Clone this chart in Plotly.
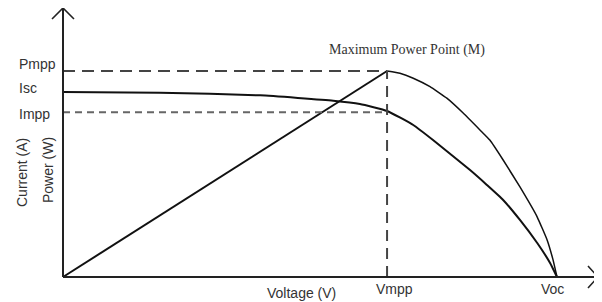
import plotly.graph_objects as go

# ---- data (relative units: Voc = 1, Pmpp = 1) ----
VOC = 1.0
VMPP = 0.656
PMPP = 1.0
ISC = 0.898
IMPP = 0.80

# Current curve (I-V)
i_v = [0.0, 0.196, 0.399, 0.547, 0.601, VMPP, 0.709, 0.749, 0.824, 0.858, 0.891, 0.925,
       0.960, 0.986, VOC]
i_i = [ISC, 0.895, 0.882, 0.856, 0.840, 0.806, 0.738, 0.665, 0.519, 0.447, 0.374, 0.277,
       0.165, 0.068, 0.0]

# Power curve (P-V): rising part and falling part
p_rise_v = [0.0, VMPP]
p_rise_p = [0.0, PMPP]
p_fall_v = [VMPP, 0.682, 0.709, 0.743, 0.777, 0.810, 0.844, 0.864, 0.891, 0.925, 0.960,
            0.980, 0.992, VOC]
p_fall_p = [PMPP, 0.989, 0.965, 0.924, 0.868, 0.796, 0.714, 0.665, 0.568, 0.437, 0.291,
            0.180, 0.083, 0.0]

# ---- geometry (page pixels; the page body has an 8px margin) ----
OFF = 8
W, H = 602 - OFF, 302 - OFF
X0PX, Y0PX = 63, 277          # origin, page pixels
SX = 494.0                    # px per voltage unit
SY = 206.0                    # px per power unit


def dx(px):
    return (px - X0PX) / SX


def dy(py):
    return (Y0PX - py) / SY


x_range = [dx(OFF), dx(OFF + W)]
y_range = [dy(OFF + H), dy(OFF)]
x_end = dx(598)
y_end = dy(8)

fig = go.Figure()

line_col = "#111111"
fig.add_trace(go.Scatter(x=i_v, y=i_i, mode="lines",
                         line=dict(color=line_col, width=2, shape="spline", smoothing=0.4),
                         hoverinfo="skip"))
fig.add_trace(go.Scatter(x=p_rise_v, y=p_rise_p, mode="lines",
                         line=dict(color=line_col, width=2), hoverinfo="skip"))
fig.add_trace(go.Scatter(x=p_fall_v, y=p_fall_p, mode="lines",
                         line=dict(color=line_col, width=1.5, shape="spline", smoothing=0.3),
                         hoverinfo="skip"))

shapes = []
dash_col = "#444444"
shapes.append(dict(type="line", xref="x", yref="y", x0=0, x1=VMPP, y0=PMPP, y1=PMPP,
                   line=dict(color=dash_col, width=2, dash="12px,7px")))
shapes.append(dict(type="line", xref="x", yref="y", x0=0, x1=VMPP, y0=IMPP, y1=IMPP,
                   line=dict(color="#666666", width=2, dash="7px,5px")))
shapes.append(dict(type="line", xref="x", yref="y", x0=VMPP, x1=VMPP, y0=0, y1=PMPP,
                   line=dict(color=dash_col, width=2, dash="11px,7px")))
ax_col = "#222222"
shapes.append(dict(type="line", xref="x", yref="y", x0=0, x1=x_end, y0=0, y1=0,
                   line=dict(color=ax_col, width=2)))
shapes.append(dict(type="line", xref="x", yref="y", x0=0, x1=0, y0=0, y1=y_end,
                   line=dict(color=ax_col, width=2)))
shapes.append(dict(type="path", xref="x", yref="y",
                   path=f"M {x_end - 10/SX} {11/SY} L {x_end} 0 L {x_end - 10/SX} {-11/SY}",
                   line=dict(color=ax_col, width=1.6)))
shapes.append(dict(type="path", xref="x", yref="y",
                   path=f"M {-11/SX} {y_end - 11/SY} L 0 {y_end} L {11/SX} {y_end - 11/SY}",
                   line=dict(color=ax_col, width=1.6)))

sans = dict(family="Liberation Sans, Arial, sans-serif", size=14, color="#333333")
serif = dict(family="Liberation Serif, Times New Roman, serif", size=14, color="#333333")

lab_x = dx(17)
annotations = [
    dict(x=lab_x, y=PMPP, text="Pmpp", xanchor="left", yanchor="middle", yshift=7),
    dict(x=lab_x, y=ISC, text="Isc", xanchor="left", yanchor="middle", yshift=4),
    dict(x=lab_x, y=IMPP, text="Impp", xanchor="left", yanchor="middle", yshift=-2),
    dict(x=dx(22), y=dy(173), text="Current (A)", textangle=-90,
         xanchor="center", yanchor="middle"),
    dict(x=dx(48), y=dy(170), text="Power (W)", textangle=-90,
         xanchor="center", yanchor="middle"),
    dict(x=dx(301), y=0, text="Voltage (V)", xanchor="center", yanchor="middle",
         yshift=-16),
    dict(x=VMPP, y=0, text="Vmpp", xanchor="center", yanchor="middle", xshift=7, yshift=-12),
    dict(x=VOC, y=0, text="Voc", xanchor="center", yanchor="middle", xshift=-5, yshift=-12),
]
for a in annotations:
    a.update(xref="x", yref="y", showarrow=False, font=sans)
annotations.append(dict(x=VMPP, y=PMPP, xref="x", yref="y", text="Maximum Power Point (M)",
                        showarrow=False, xanchor="center", yanchor="middle",
                        xshift=20, yshift=21, font=serif))

fig.update_layout(
    width=W, height=H,
    margin=dict(l=0, r=0, t=0, b=0, pad=0),
    paper_bgcolor="white", plot_bgcolor="white",
    showlegend=False,
    xaxis=dict(range=x_range, visible=False, fixedrange=True),
    yaxis=dict(range=y_range, visible=False, fixedrange=True),
    shapes=shapes, annotations=annotations,
)

fig.write_html("out.html")
